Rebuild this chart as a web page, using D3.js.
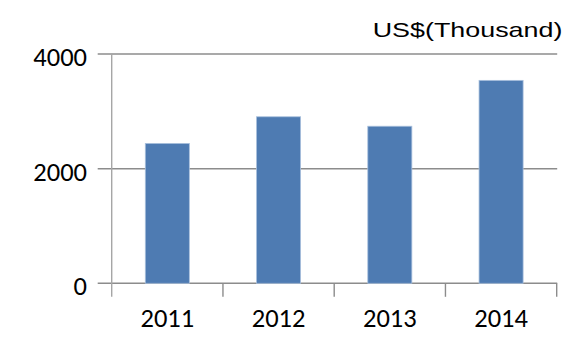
<!DOCTYPE html>
<html>
<head>
<meta charset="utf-8">
<script src="https://cdn.jsdelivr.net/npm/d3@7/dist/d3.min.js"></script>
<style>
  html, body { margin: 0; padding: 0; background: #fff; }
  svg { display: block; }
</style>
</head>
<body>
<svg id="chart" width="572" height="338"></svg>
<script>
// Annual values, US$ thousand
const years = ["2011", "2012", "2013", "2014"];
const values = [2440, 2905, 2740, 3540];
const yTicks = [0, 2000, 4000];
const unitLabel = "US$(Thousand)";

const svg = d3.select("#chart");
const plotLeft = 111.7, plotRight = 556.7, plotTop = 54, plotBottom = 283.3;
const labelFont = "Carlito, Calibri, Lato, sans-serif";

const x = d3.scaleBand()
  .domain(years)
  .range([plotLeft, plotRight])
  .paddingInner(0.604)
  .paddingOuter(0.302);

const y = d3.scaleLinear()
  .domain([0, 4000])
  .range([plotBottom, plotTop]);

// Horizontal gridlines, extended left of the axis as tick marks
svg.append("g")
  .selectAll("line")
  .data(yTicks)
  .join("line")
  .attr("x1", plotLeft - 14)
  .attr("x2", plotRight + 0.5)
  .attr("y1", d => y(d))
  .attr("y2", d => y(d))
  .attr("stroke", "#8c8c8c")
  .attr("stroke-width", 1.5);

// Vertical axis line
svg.append("line")
  .attr("x1", plotLeft).attr("x2", plotLeft)
  .attr("y1", plotTop).attr("y2", plotBottom + 13.5)
  .attr("stroke", "#a6a6a6")
  .attr("stroke-width", 1.4);

// Category boundary ticks below the baseline
const boundaries = years.map(d => x(d) + x.bandwidth() / 2 + x.step() / 2);
svg.append("g")
  .selectAll("line")
  .data(boundaries)
  .join("line")
  .attr("x1", d => d).attr("x2", d => d)
  .attr("y1", plotBottom).attr("y2", plotBottom + 13.5)
  .attr("stroke", "#8c8c8c")
  .attr("stroke-width", 1.4);

// Bars
svg.append("g")
  .selectAll("rect")
  .data(years.map((d, i) => ({ year: d, value: values[i] })))
  .join("rect")
  .attr("x", d => x(d.year))
  .attr("y", d => y(d.value))
  .attr("width", x.bandwidth())
  .attr("height", d => y(0) - y(d.value))
  .attr("fill", "#4e7bb2")
  .attr("stroke", "#a9c0dd")
  .attr("stroke-width", 0.8);

// Y tick labels
svg.append("g")
  .selectAll("text")
  .data(yTicks)
  .join("text")
  .attr("x", 87)
  .attr("y", d => y(d) + 12)
  .attr("text-anchor", "end")
  .attr("font-family", labelFont)
  .attr("font-size", 26.5)
  .attr("fill", "#000")
  .text(d => d);

// X category labels
svg.append("g")
  .selectAll("text")
  .data(years)
  .join("text")
  .attr("x", d => x(d) + x.bandwidth() / 2)
  .attr("y", 327.3)
  .attr("text-anchor", "middle")
  .attr("font-family", labelFont)
  .attr("font-size", 26.5)
  .attr("fill", "#000")
  .text(d => d);

// Unit label, drawn horizontally widened
svg.append("text")
  .attr("transform", "translate(372.7,36.7) scale(1.28,1)")
  .attr("font-family", "'Liberation Sans', Arial, sans-serif")
  .attr("font-size", 21)
  .attr("fill", "#000")
  .text(unitLabel);
</script>
</body>
</html>
